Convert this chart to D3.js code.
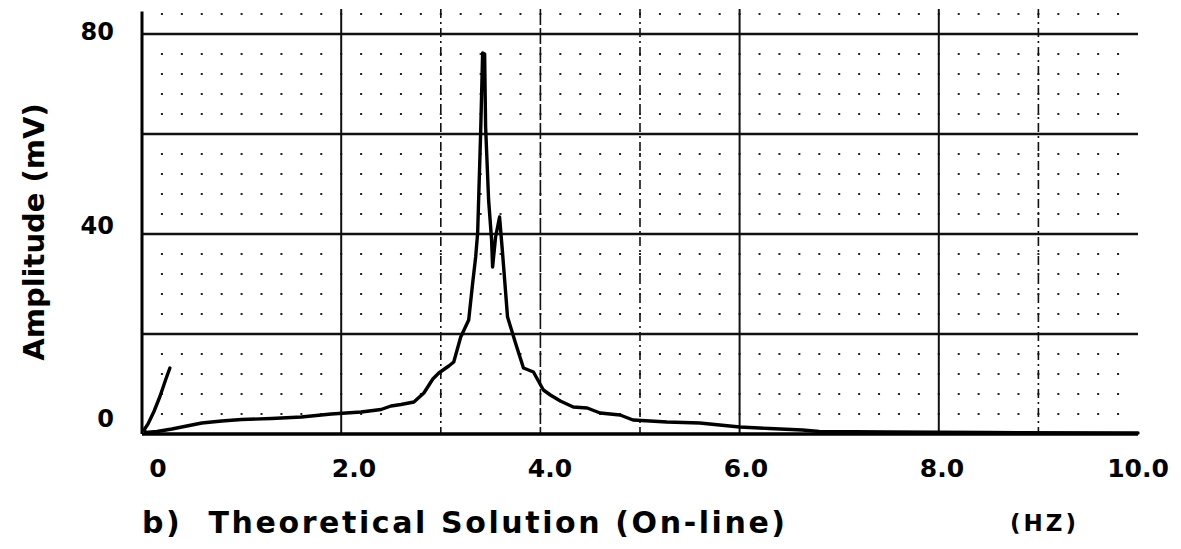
<!DOCTYPE html>
<html>
<head>
<meta charset="utf-8">
<script src="https://cdn.jsdelivr.net/npm/d3@7"></script>
<style>
  html, body { margin: 0; padding: 0; background: #fff; }
  svg { display: block; }
  text { font-family: "DejaVu Sans", "Liberation Sans", Arial, sans-serif; font-weight: bold; fill: #000; }
</style>
</head>
<body>
<svg id="chart" width="1181" height="549"></svg>
<script>
// ---- data ----
const freqHz = [0.28, 0.24, 0.18, 0.12, 0.06, 0.02, 0.04, 0.15, 0.3, 0.45, 0.6, 0.8, 1.0, 1.3, 1.6, 1.9, 2.2, 2.4, 2.5, 2.6,
  2.73, 2.83, 2.92, 2.98, 3.08, 3.13, 3.2, 3.28, 3.32, 3.35, 3.37, 3.40, 3.42, 3.44, 3.45, 3.48, 3.51, 3.52, 3.55, 3.59,
  3.62, 3.67, 3.75, 3.83, 3.93, 4.03, 4.1, 4.2, 4.33, 4.47, 4.6, 4.8, 4.93, 5.27, 5.6, 6.0, 6.3, 6.63, 6.8, 7.5, 8.5, 10.0];
const amplitudeMv = [13.2, 11, 7.5, 4.5, 2, 0.8, 0.3, 0.5, 1.0, 1.6, 2.2, 2.6, 2.9, 3.1, 3.4, 4.0, 4.4, 4.9, 5.6, 5.9,
  6.4, 8.2, 11, 12.2, 13.6, 14.4, 19.4, 22.8, 30.2, 35.4, 40.2, 60.2, 76.2, 76, 61.4, 46.8, 38.8, 33.4, 39.4, 43.4,
  36.2, 23.4, 18.2, 13.2, 12.4, 8.8, 7.8, 6.6, 5.4, 5.2, 4.2, 3.8, 2.8, 2.4, 2.2, 1.4, 1.1, 0.8, 0.5, 0.4, 0.3, 0.2];
const xTickValues = [0, 2, 4, 6, 8, 10];
const xTickLabels = ["0", "2.0", "4.0", "6.0", "8.0", "10.0"];
const yTickValues = [0, 40, 80];
const yTickLabels = ["0", "40", "80"];
const hGridValues = [20, 40, 60, 80];
const solidVGrid = [2, 6, 8];
const dashedVGrid = [3, 4, 5, 9];
const yAxisTitle = "Amplitude (mV)";
const chartTitle = "b)  Theoretical Solution (On-line)";
const unitLabel = "(HZ)";

// ---- scales ----
const svg = d3.select("#chart");
const x = d3.scaleLinear().domain([0, 10]).range([142, 1138]);
const y = d3.scaleLinear().domain([0, 85]).range([434, 9]);
// label placement scales (labels in the original sit slightly off the grid)
const xLab = d3.scaleLinear().domain([0, 10]).range([158, 1138]);
const yLab = d3.scaleLinear().domain([0, 80]).range([427, 40]);

// ---- dotted minor grid ----
const dotX = d3.range(1, 50).map(i => i * 0.2);
const dotY = d3.range(1, 22).map(j => j * 4).filter(v => v % 20 !== 0);
const dots = [];
dotX.forEach(dx => dotY.forEach(dy => dots.push([dx, dy])));
svg.append("g").selectAll("rect").data(dots).join("rect")
  .attr("x", d => x(d[0]) - 1).attr("y", d => y(d[1]) - 1)
  .attr("width", 2).attr("height", 2).attr("fill", "#222");

// ---- vertical grid lines ----
svg.append("g").selectAll("line").data(solidVGrid).join("line")
  .attr("x1", d => x(d)).attr("x2", d => x(d))
  .attr("y1", y(85)).attr("y2", y(0))
  .attr("stroke", "#111").attr("stroke-width", 2);
svg.append("g").selectAll("line").data(dashedVGrid).join("line")
  .attr("x1", d => x(d)).attr("x2", d => x(d))
  .attr("y1", y(85)).attr("y2", y(0))
  .attr("stroke", "#111").attr("stroke-width", 1.6)
  .attr("stroke-dasharray", d => d === 4 ? "16,3" : "9,4,2,4");

// ---- horizontal grid lines ----
svg.append("g").selectAll("line").data(hGridValues).join("line")
  .attr("x1", x(0)).attr("x2", x(10))
  .attr("y1", d => y(d)).attr("y2", d => y(d))
  .attr("stroke", "#111").attr("stroke-width", 2.5);

// ---- axes lines ----
svg.append("line").attr("x1", x(0)).attr("x2", x(0)).attr("y1", y(84.5)).attr("y2", y(0))
  .attr("stroke", "#000").attr("stroke-width", 3);
svg.append("line").attr("x1", x(0)).attr("x2", x(10)).attr("y1", y(0)).attr("y2", y(0))
  .attr("stroke", "#000").attr("stroke-width", 3.5);

// ---- curve ----
const pts = freqHz.map((f, i) => [f, amplitudeMv[i]]);
svg.append("path").datum(pts)
  .attr("d", d3.line().x(d => x(d[0])).y(d => y(d[1])))
  .attr("fill", "none").attr("stroke", "#000").attr("stroke-width", 3.4)
  .attr("stroke-linejoin", "round").attr("stroke-linecap", "round");

// ---- tick labels ----
svg.append("g").selectAll("text").data(xTickValues).join("text")
  .attr("x", d => xLab(d)).attr("y", 477)
  .attr("text-anchor", "middle")
  .style("font-size", "25px")
  .text((d, i) => xTickLabels[i]);
svg.append("g").selectAll("text").data(yTickValues).join("text")
  .attr("x", 114).attr("y", d => yLab(d))
  .attr("text-anchor", "end")
  .style("font-size", "24px")
  .text((d, i) => yTickLabels[i]);

// ---- titles ----
svg.append("text")
  .attr("transform", "translate(44,232) rotate(-90)")
  .attr("text-anchor", "middle")
  .style("font-size", "29px")
  .text(yAxisTitle);
svg.append("text")
  .attr("x", 142).attr("y", 533)
  .attr("xml:space", "preserve").style("white-space", "pre")
  .style("font-size", "30px").style("letter-spacing", "2.6px")
  .text(chartTitle);
svg.append("text")
  .attr("x", 1010).attr("y", 531)
  .style("font-size", "23px").style("letter-spacing", "3px")
  .text(unitLabel);
</script>
</body>
</html>
